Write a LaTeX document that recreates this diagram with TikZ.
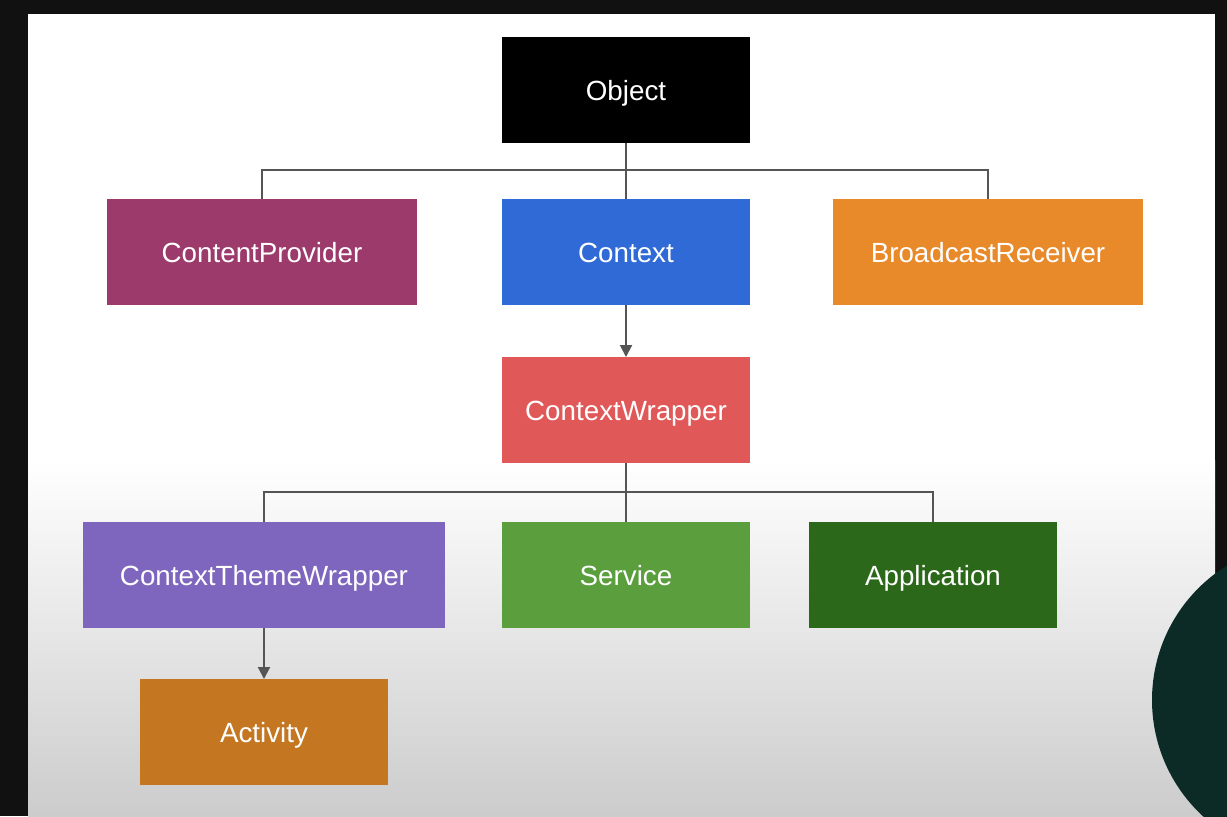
\documentclass[tikz,border=0pt]{standalone}
\usepackage{fontspec}
\setmainfont{Liberation Sans}
\usetikzlibrary{arrows.meta}

\definecolor{frame}{HTML}{111111}
\definecolor{camera}{HTML}{0C2A26}
\definecolor{link}{HTML}{555555}
\definecolor{cobject}{HTML}{000000}
\definecolor{cprovider}{HTML}{9C3A6B}
\definecolor{ccontext}{HTML}{306AD6}
\definecolor{creceiver}{HTML}{E8892A}
\definecolor{cwrapper}{HTML}{E05858}
\definecolor{ctheme}{HTML}{7E66BE}
\definecolor{cservice}{HTML}{5B9E3E}
\definecolor{capp}{HTML}{2C681A}
\definecolor{cactivity}{HTML}{C47620}

\begin{document}
\begin{tikzpicture}[x=0.02cm,y=-0.02cm,
	cls/.style={fill=#1,text=white,inner sep=0pt,outer sep=0pt,minimum width=4.96cm,minimum height=2.12cm,text height=1.3em,text depth=0.15em,font=\fontsize{15.8}{18}\selectfont},
	wide/.style={minimum width=6.2cm},
	wider/.style={minimum width=7.24cm},
	link/.style={draw=link,line width=1.1pt},
	inherit/.style={link,-{Triangle[length=0.24cm,width=0.24cm]}}]
	\useasboundingbox (0,0) rectangle (1227,816);
	\fill[frame] (0,0) rectangle (1227,816);
	\fill[white] (28,14) rectangle (1215,816);
	\shade[top color=white,bottom color=black!20] (28,460) rectangle (1215,816);
	\begin{scope}
		\clip (0,0) rectangle (1227,816);
		\fill[camera] (1310,700) circle (158);
	\end{scope}

	\node[cls=cobject] (object) at (626,90) {Object};
	\node[cls=cprovider,wide] (provider) at (262,252) {ContentProvider};
	\node[cls=ccontext] (context) at (626,252) {Context};
	\node[cls=creceiver,wide] (receiver) at (988,252) {BroadcastReceiver};
	\node[cls=cwrapper] (wrapper) at (626,410) {ContextWrapper};
	\node[cls=ctheme,wider] (theme) at (264,575) {ContextThemeWrapper};
	\node[cls=cservice] (service) at (626,575) {Service};
	\node[cls=capp] (app) at (933,575) {Application};
	\node[cls=cactivity] (activity) at (264,732) {Activity};

	\coordinate (bus1) at (626,170);
	\coordinate (bus2) at (626,492);

	\draw[link] (object) -- (bus1);
	\draw[link] (bus1) -| (provider);
	\draw[link] (bus1) -| (receiver);
	\draw[link] (bus1) -- (context);
	\draw[inherit] (context) -- (wrapper);
	\draw[link] (wrapper) -- (bus2);
	\draw[link] (bus2) -| (theme);
	\draw[link] (bus2) -| (app);
	\draw[link] (bus2) -- (service);
	\draw[inherit] (theme) -- (activity);
	\end{tikzpicture}
\end{document}
